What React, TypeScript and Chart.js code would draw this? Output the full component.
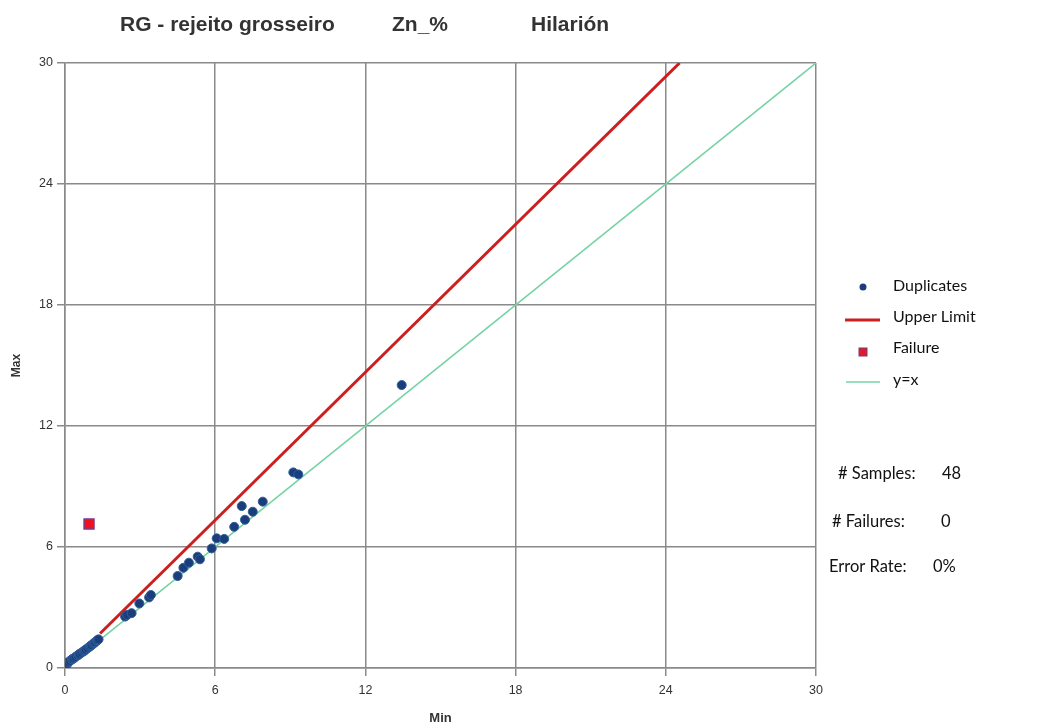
import React, { useEffect, useRef } from "react";
import { Chart, registerables } from "chart.js";

Chart.register(...registerables);

const titleParts = ["RG - rejeito grosseiro", "Zn_%", "Hilarión"];
const xTitle = "Min";
const yTitle = "Max";

const dupMin = [
  0.0, 0.05, 0.08, 0.12, 0.2, 0.27, 0.3, 0.35, 0.42, 0.5, 0.55, 0.58, 0.66, 0.74, 0.78, 0.82, 0.9, 0.98, 1.02, 1.06,
  1.13, 1.17, 1.2, 1.27, 1.3, 1.34,
  2.4, 2.48, 2.66, 2.97, 3.36, 3.43,
  4.5, 4.73, 4.95, 5.3, 5.39, 5.86, 6.06, 6.36, 6.76, 7.19,
  7.06, 7.5, 7.9,
  9.12, 9.32, 13.45,
];
const dupMax = [
  0.12, 0.2, 0.18, 0.28, 0.35, 0.42, 0.45, 0.48, 0.55, 0.62, 0.66, 0.7, 0.76, 0.82, 0.87, 0.9, 0.98, 1.05, 1.1, 1.13,
  1.2, 1.25, 1.28, 1.35, 1.38, 1.42,
  2.55, 2.63, 2.72, 3.2, 3.5, 3.62,
  4.56, 4.97, 5.22, 5.52, 5.39, 5.93, 6.43, 6.4, 7.0, 7.35,
  8.03, 7.75, 8.25,
  9.7, 9.6, 14.03,
];

const failMin = [0.96];
const failMax = [7.14];

const upperMin = [1.4, 24.55];
const upperMax = [1.71, 30];

const identMin = [0, 30];
const identMax = [0, 30];

const axisMin = 0;
const axisMax = 30;
const tickStep = 6;

const statLabels = ["# Samples:", "# Failures:", "Error Rate:"];
const statValues = ["48", "0", "0%"];

const legendLabels = ["Duplicates", "Upper Limit", "Failure", "y=x"];

const POINT_COLOR = "#1b3d7c";
const RED = "#cc1f1f";
const GREEN = "#74d3a4";
const GRID = "#8a8a8a";

const toXY = (xs: number[], ys: number[]) => xs.map((x, i) => ({ x, y: ys[i] }));

const overlayPlugin = {
  id: "overlay",
  afterDraw(chart: any) {
    const ctx = chart.ctx as CanvasRenderingContext2D;
    ctx.save();
    // Title
    ctx.fillStyle = "#333333";
    ctx.font = "bold 21px 'Liberation Sans', Arial, sans-serif";
    ctx.textBaseline = "middle";
    ctx.textAlign = "left";
    const titleX = [120, 392, 531];
    titleParts.forEach((t, i) => ctx.fillText(t, titleX[i], 25));

    // Legend
    const lf = "16px Lato, 'Open Sans', sans-serif";
    ctx.font = lf;
    ctx.fillStyle = "#111111";
    const ly = [286, 317, 348, 380];
    legendLabels.forEach((t, i) => ctx.fillText(t, 893, ly[i]));
    // markers
    ctx.beginPath();
    ctx.arc(863, 287, 3.5, 0, Math.PI * 2);
    ctx.fillStyle = POINT_COLOR;
    ctx.fill();
    ctx.strokeStyle = RED;
    ctx.lineWidth = 3;
    ctx.beginPath();
    ctx.moveTo(845, 320);
    ctx.lineTo(880, 320);
    ctx.stroke();
    ctx.fillStyle = "#e01a2a";
    ctx.fillRect(859, 348, 8, 8);
    ctx.strokeStyle = "#7a3a7a";
    ctx.lineWidth = 1;
    ctx.strokeRect(859, 348, 8, 8);
    ctx.strokeStyle = GREEN;
    ctx.lineWidth = 1.5;
    ctx.beginPath();
    ctx.moveTo(846, 382);
    ctx.lineTo(880, 382);
    ctx.stroke();

    // Stats
    ctx.fillStyle = "#111111";
    ctx.font = "16.5px Lato, 'Open Sans', sans-serif";
    const sx = [838, 832, 829];
    const vx = [942, 941, 933];
    const sy = [474, 522, 567];
    statLabels.forEach((t, i) => {
      ctx.fillText(t, sx[i], sy[i]);
      ctx.fillText(statValues[i], vx[i], sy[i]);
    });
    ctx.restore();
  },
};

export default function App() {
  const ref = useRef<HTMLCanvasElement | null>(null);
  useEffect(() => {
    document.body.style.margin = "0";
    const canvas = ref.current!;
    const chart = new Chart(canvas, {
      type: "scatter",
      data: {
        datasets: [
          {
            label: "Duplicates",
            data: toXY(dupMin, dupMax),
            backgroundColor: POINT_COLOR,
            borderColor: "#2f5f9a",
            borderWidth: 1,
            pointRadius: 4.5,
          },
          {
            label: "Failure",
            data: toXY(failMin, failMax),
            pointStyle: "rect",
            backgroundColor: "#f01020",
            borderColor: "#7a3a8a",
            borderWidth: 1.5,
            pointRadius: 7,
          },
          {
            label: "Upper Limit",
            data: toXY(upperMin, upperMax),
            showLine: true,
            borderColor: RED,
            borderWidth: 3,
            pointRadius: 0,
          },
          {
            label: "y=x",
            data: toXY(identMin, identMax),
            showLine: true,
            borderColor: GREEN,
            borderWidth: 1.6,
            pointRadius: 0,
          },
        ],
      },
      options: {
        animation: false,
        responsive: false,
        maintainAspectRatio: false,
        layout: { padding: { left: 0, right: 238, top: 63, bottom: 0 } },
        plugins: {
          legend: { display: false },
          tooltip: { enabled: false },
          title: { display: false },
        },
        scales: {
          x: {
            type: "linear",
            min: axisMin,
            max: axisMax,
            ticks: {
              stepSize: tickStep,
              color: "#333333",
              font: { size: 12.5, family: "'Liberation Sans', Arial, sans-serif" },
              padding: 7,
              maxRotation: 0,
            },
            grid: { color: GRID, lineWidth: 1.5, tickLength: 8, drawTicks: true },
            border: { color: GRID, width: 1.5 },
            title: {
              display: true,
              text: xTitle,
              color: "#333333",
              font: { size: 13, weight: "bold", family: "'Liberation Sans', Arial, sans-serif" },
              padding: { top: 6, bottom: 0 },
            },
            afterFit: (s: any) => {
              s.height = 58;
            },
          },
          y: {
            type: "linear",
            min: axisMin,
            max: axisMax,
            ticks: {
              stepSize: tickStep,
              color: "#333333",
              font: { size: 12.5, family: "'Liberation Sans', Arial, sans-serif" },
              padding: 4,
            },
            grid: { color: GRID, lineWidth: 1.5, tickLength: 8, drawTicks: true },
            border: { color: GRID, width: 1.5 },
            title: {
              display: true,
              text: yTitle,
              color: "#333333",
              font: { size: 12, weight: "bold", family: "'Liberation Sans', Arial, sans-serif" },
              padding: { top: 9, bottom: 14 },
            },
            afterFit: (s: any) => {
              s.width = 65;
            },
          },
        },
      },
      plugins: [overlayPlugin],
    } as any);
    return () => chart.destroy();
  }, []);
  return (
    <div style={{ position: "absolute", left: 0, top: 0, width: 1054, height: 726, background: "#ffffff" }}>
      <canvas ref={ref} width={1054} height={726} style={{ width: 1054, height: 726, display: "block" }} />
    </div>
  );
}
